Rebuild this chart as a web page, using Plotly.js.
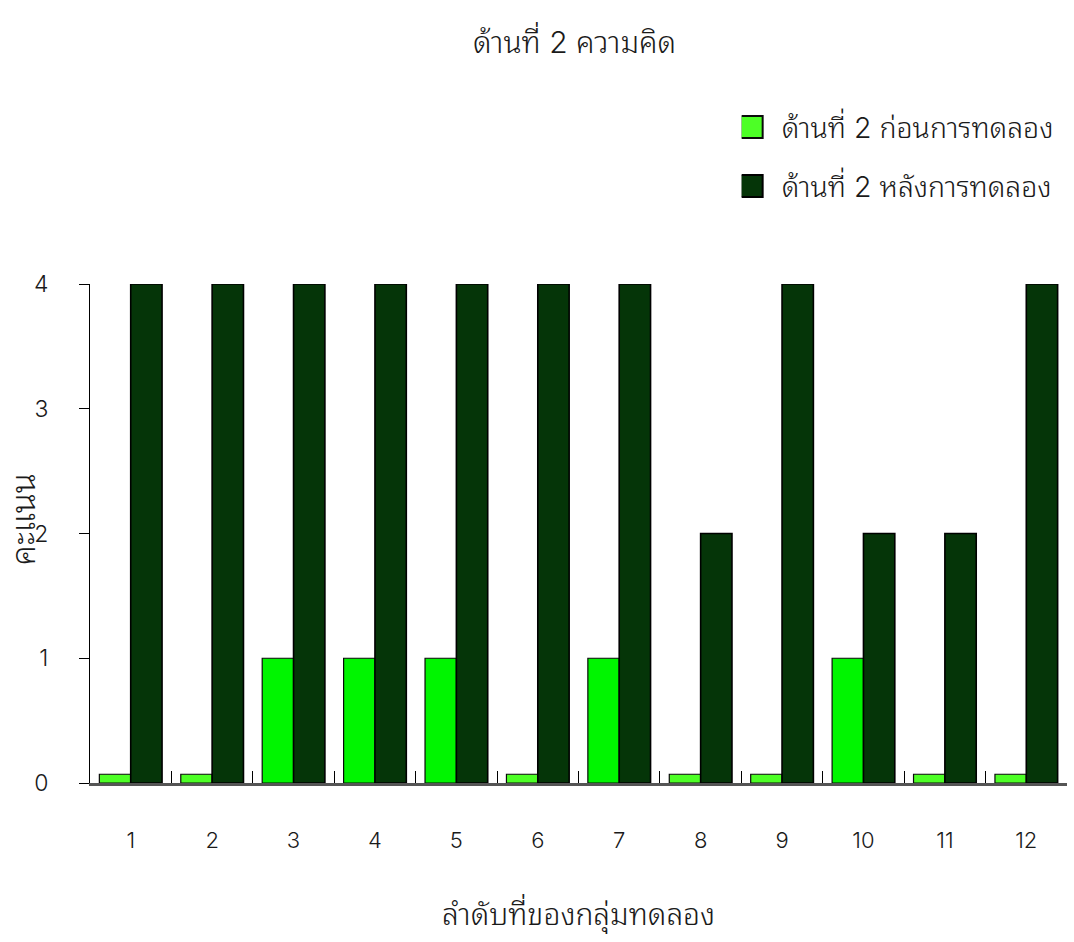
<!DOCTYPE html>
<html>
<head>
<meta charset="utf-8">
<script src="https://cdn.plot.ly/plotly-3.0.1.min.js"></script>
<style>
html,body{margin:0;padding:0;background:#fff;}
#chart{width:1074px;height:942px;}
</style>
</head>
<body>
<div id="chart"></div>
<script>
// ---- data ----
const groups = ['1','2','3','4','5','6','7','8','9','10','11','12'];
const beforeScores = [0,0,1,1,1,0,1,0,0,1,0,0];
const afterScores  = [4,4,4,4,4,4,4,2,4,2,2,4];
const seriesNames = ['ด้านที่ 2 ก่อนการทดลอง','ด้านที่ 2 หลังการทดลอง'];
const yTicks = [0,1,2,3,4];
const chartTitle = 'ด้านที่ 2 ความคิด';
const xTitle = 'ลำดับที่ของกลุ่มทดลอง';
const yTitle = 'คะแนน';

// zero-valued bars are drawn as a thin floor slab (as in the 3D original)
const SLAB = 0.07;
const beforeShown = beforeScores.map(v => v === 0 ? SLAB : v);
const beforeColors = beforeScores.map(v => v === 0 ? '#4dff26' : '#00f500');

const FONT = 'Inter, "Noto Sans Thai Looped", "Noto Sans Thai", Garuda, Loma, "Liberation Sans", sans-serif';
const TXT = '#1a1a1a';

const traces = [
  {
    type: 'bar', name: seriesNames[0], x: groups, y: beforeShown,
    customdata: beforeScores, hovertemplate: '%{x}: %{customdata}<extra></extra>',
    marker: {color: beforeColors, line: {color: '#0a0a0a', width: 1.2}},
    legendgroup: 'a'
  },
  {
    type: 'bar', name: seriesNames[1], x: groups, y: afterScores,
    marker: {color: '#053508', line: {color: '#000000', width: 1.6}},
    legendgroup: 'b'
  }
];

const layout = {
  width: 1074, height: 942,
  paper_bgcolor: '#ffffff', plot_bgcolor: '#ffffff',
  font: {family: FONT, color: TXT, size: 20, weight: 300},
  title: {text: chartTitle, x: 0.535, xanchor: 'center', y: 0.955, yanchor: 'middle',
          font: {size: 30, family: FONT, color: TXT, weight: 300}},
  margin: {l: 90, r: 7, t: 284, b: 159},
  barmode: 'group', bargap: 0.23, bargroupgap: 0,
  showlegend: true,
  legend: {x: 0.667, xanchor: 'left', y: 1.365, yanchor: 'top',
           font: {size: 28.5, family: FONT, color: TXT, weight: 300},
           traceorder: 'grouped', tracegroupgap: 19, bgcolor: 'rgba(0,0,0,0)'},
  xaxis: {
    type: 'category', tickson: 'boundaries', ticks: 'inside', ticklen: 12,
    tickcolor: '#000', tickwidth: 1,
    showline: true, linecolor: '#555', linewidth: 3,
    showgrid: false, zeroline: false,
    tickfont: {size: 22, family: FONT, color: TXT, weight: 300},
    ticklabelstandoff: 36,
    title: {text: xTitle, font: {size: 30, family: FONT, color: TXT, weight: 300}, standoff: 52}
  },
  yaxis: {
    range: [0, 4], tickvals: yTicks, ticks: 'outside', ticklen: 10,
    tickcolor: '#000', tickwidth: 1,
    showline: true, linecolor: '#000', linewidth: 1,
    showgrid: false, zeroline: false,
    tickfont: {size: 23, family: FONT, color: TXT, weight: 300},
    ticklabelstandoff: 26
  },
  annotations: [{
    text: yTitle, xref: 'paper', yref: 'paper', x: -0.069, y: 0.527,
    xanchor: 'center', yanchor: 'middle', textangle: -90, showarrow: false,
    font: {size: 33, family: FONT, color: TXT, weight: 300}
  }]
};

Plotly.newPlot('chart', traces, layout, {displayModeBar: false, staticPlot: true}).then(() => {
  document.querySelectorAll('.legendpoints path').forEach(p => {
    p.setAttribute('d', 'M-11,-11H11V11H-11Z');
    p.setAttribute('transform', 'translate(10,0)');
    p.style.strokeWidth = '2px';
  });
});
</script>
</body>
</html>
